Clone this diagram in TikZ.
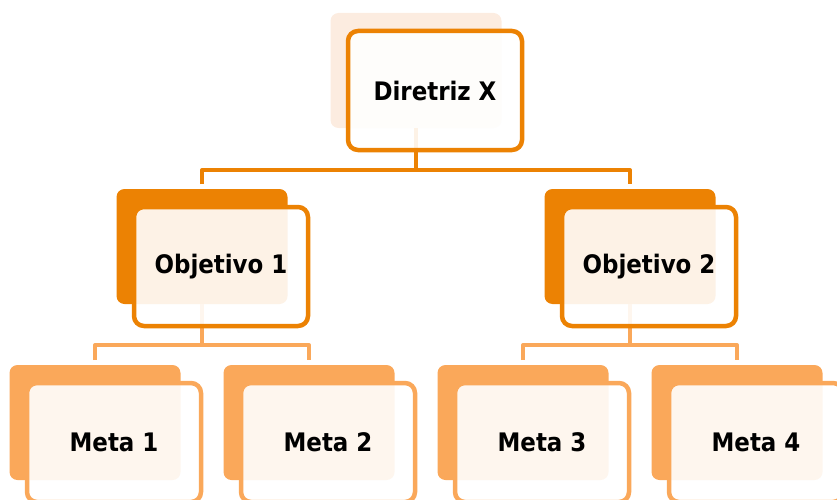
\documentclass[tikz,border=0pt]{standalone}
\usepackage{fontspec}
\setmainfont{DejaVu Sans Condensed}
\definecolor{orangeDark}{RGB}{236,130,3}
\definecolor{orangeLight}{RGB}{250,168,90}
\definecolor{peach}{RGB}{252,236,224}
\begin{document}
\begin{tikzpicture}[x=1pt,y=-1pt,
  backcard/.style={rectangle, rounded corners=8pt, minimum width=171pt, minimum height=115pt, inner sep=0pt, outer sep=0pt},
  frontcard/.style={rectangle, rounded corners=10pt, minimum width=174pt, minimum height=119pt, inner sep=0pt, line width=4.5pt, fill=white, fill opacity=0.9, text opacity=1, text=black, font=\fontsize{25.5}{30}\selectfont\bfseries},
  link/.style={line width=4pt, line join=round}
]
\useasboundingbox (0,0) rectangle (837,500);

% background cards
\node[backcard, fill=peach]       (dB)  at (416,70.5)  {};
\node[backcard, fill=orangeDark]  (o1B) at (202,246.5) {};
\node[backcard, fill=orangeDark]  (o2B) at (630,246.5) {};
\node[backcard, fill=orangeLight] (m1B) at (95,422.5)  {};
\node[backcard, fill=orangeLight] (m2B) at (309,422.5) {};
\node[backcard, fill=orangeLight] (m3B) at (523,422.5) {};
\node[backcard, fill=orangeLight] (m4B) at (737,422.5) {};

% bus levels
\coordinate (busA) at (0,170);
\coordinate (busB) at (0,345);

% connectors
\draw[link, orangeDark] (dB.south) -- (dB.south |- busA);
\draw[link, orangeDark] ([yshift=5pt]o1B.north) |- (dB.south |- busA) -| ([yshift=5pt]o2B.north);
\draw[link, orangeLight] (o1B.south) -- (o1B.south |- busB);
\draw[link, orangeLight] ([yshift=5pt]m1B.north) |- (o1B.south |- busB) -| ([yshift=5pt]m2B.north);
\draw[link, orangeLight] (o2B.south) -- (o2B.south |- busB);
\draw[link, orangeLight] ([yshift=5pt]m3B.north) |- (o2B.south |- busB) -| ([yshift=5pt]m4B.north);

% front cards with labels
\node[frontcard, draw=orangeDark]  (d)  at (435,90.5)  {Diretriz X};
\node[frontcard, draw=orangeDark]  (o1) at (221,266.5) {Objetivo 1};
\node[frontcard, draw=orangeDark]  (o2) at (649,266.5) {Objetivo 2};
\node[frontcard, draw=orangeLight] (m1) at (114,442.5) {Meta 1};
\node[frontcard, draw=orangeLight] (m2) at (328,442.5) {Meta 2};
\node[frontcard, draw=orangeLight] (m3) at (542,442.5) {Meta 3};
\node[frontcard, draw=orangeLight] (m4) at (756,442.5) {Meta 4};
\end{tikzpicture}
\end{document}
